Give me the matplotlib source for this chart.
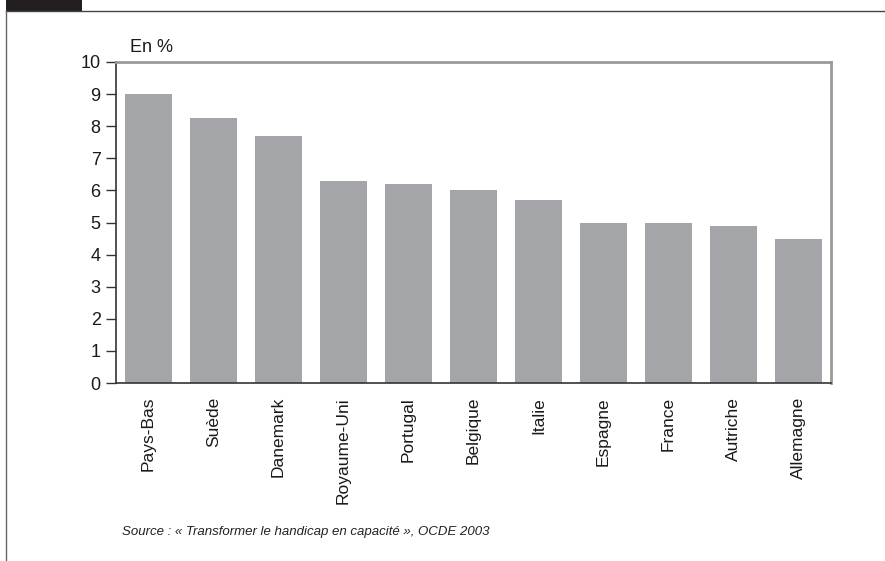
import matplotlib.pyplot as plt
from matplotlib.patches import Rectangle
from matplotlib.lines import Line2D

pays = ['Pays-Bas', 'Suède', 'Danemark', 'Royaume-Uni', 'Portugal', 'Belgique',
        'Italie', 'Espagne', 'France', 'Autriche', 'Allemagne']
valeurs = [9.0, 8.25, 7.7, 6.3, 6.2, 6.0, 5.7, 5.0, 5.0, 4.9, 4.5]
yticks = list(range(0, 11))

plt.rcParams['font.family'] = ['Liberation Sans', 'DejaVu Sans']

W, H = 885, 561
fig = plt.figure(figsize=(W / 100, H / 100), dpi=100)

# outer frame: dark tab, top rule, left rule
fig.add_artist(Rectangle((6 / W, 1 - 11 / H), 76 / W, 11 / H, transform=fig.transFigure,
                         color='#231f20', lw=0))
fig.add_artist(Line2D([6 / W, 1], [1 - 11 / H] * 2, transform=fig.transFigure, color='#444444', lw=1))
fig.add_artist(Line2D([6 / W] * 2, [0, 1 - 11 / H], transform=fig.transFigure, color='#666666', lw=1))

left, right, top, bottom = 116, 831, 62, 383
ax = fig.add_axes([left / W, 1 - bottom / H, (right - left) / W, (bottom - top) / H])

x = range(len(pays))
ax.bar(x, valeurs, width=0.72, color='#a3a5a8', zorder=2)
ax.set_xlim(-0.5, len(pays) - 0.5)
ax.set_ylim(0, 10)
ax.set_yticks(yticks)
ax.set_xticks(list(x))
ax.set_xticklabels(pays, rotation=90, fontsize=12.5, color='#1a1a1a')
ax.tick_params(axis='y', labelsize=13, labelcolor='#1a1a1a', length=7, width=1,
               color='#333333', pad=4)
ax.tick_params(axis='x', length=0, pad=10)

ax.spines['left'].set_color('#333333')
ax.spines['left'].set_linewidth(1.2)
ax.spines['bottom'].set_color('#333333')
ax.spines['bottom'].set_linewidth(1.2)
ax.spines['top'].set_color('#9a9a9a')
ax.spines['top'].set_linewidth(2)
ax.spines['right'].set_color('#9a9a9a')
ax.spines['right'].set_linewidth(2)

fig.text(130 / W, 1 - 47 / H, 'En %', fontsize=13, va='center', ha='left', color='#1a1a1a')
fig.text(122 / W, 1 - 532 / H, 'Source : « Transformer le handicap en capacité », OCDE 2003',
         fontsize=9.5, style='italic', va='center', ha='left', color='#222222')

fig.savefig('out.png', dpi=100)
